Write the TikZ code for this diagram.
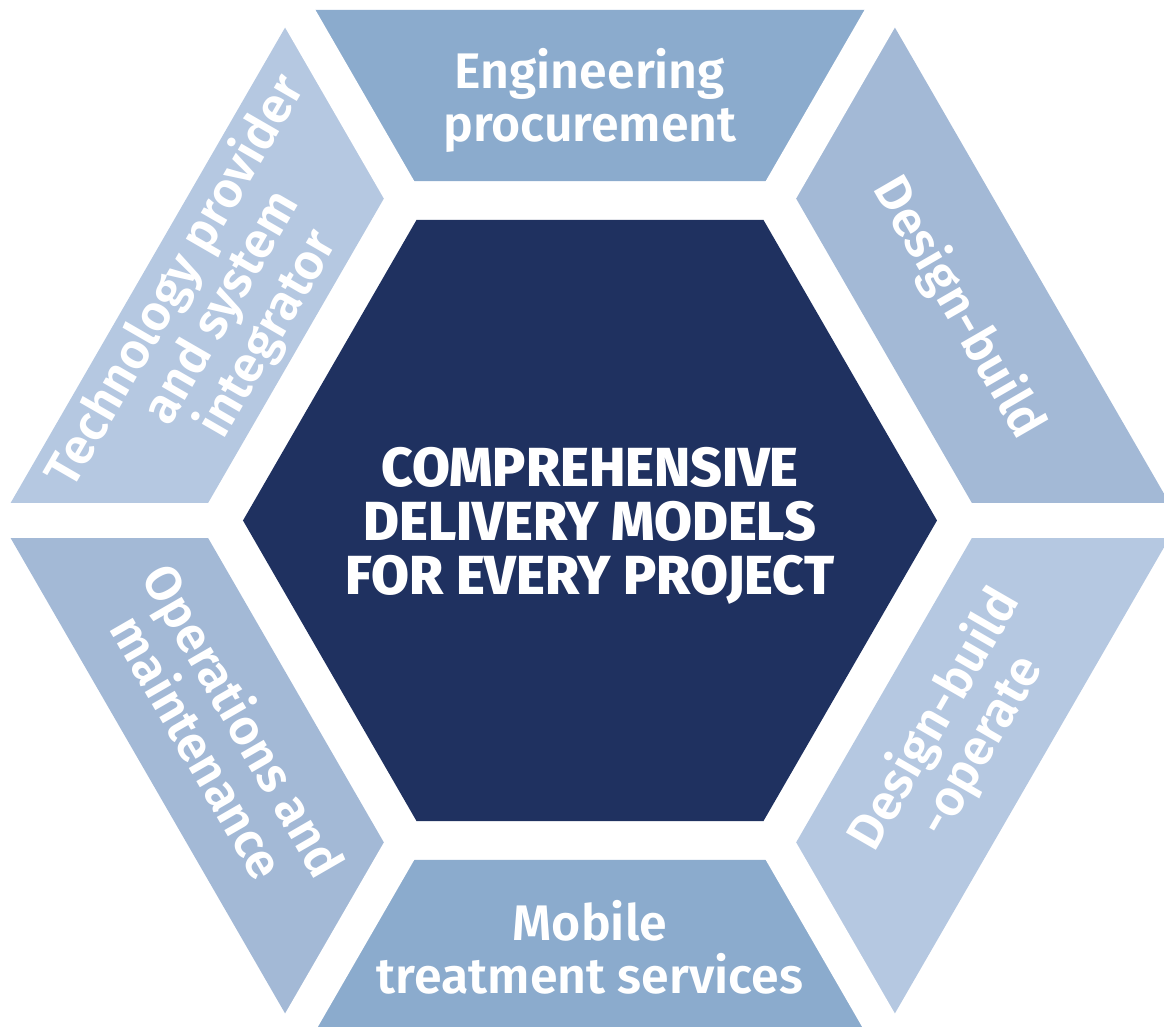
\documentclass[tikz,border=0pt]{standalone}
\usepackage{fontspec}
\newfontfamily\labelfont{Fira Sans SemiBold}
\newfontfamily\hubfont{Fira Sans ExtraBold}
\usetikzlibrary{positioning}

\definecolor{hubnavy}{HTML}{1F3160}
\definecolor{segmid}{HTML}{8BABCD}
\definecolor{segsoft}{HTML}{A3B9D6}
\definecolor{seglight}{HTML}{B5C8E1}

\begin{document}
\begin{tikzpicture}[x=0.5pt,y=0.5pt,
                    lbl/.style={text=white,align=center,inner sep=0pt,
                                font=\labelfont\fontsize{25}{26.5}\selectfont},
                    hub/.style={text=white,align=center,inner sep=0pt,
                                font=\hubfont\fontsize{27.5}{27}\selectfont},
                    gap/.style={white,line width=17.5pt}]
  \useasboundingbox (-590,-506.5) rectangle (574,520.5);
  \clip (-590,-506.5) rectangle (574,520.5);

  % outer ring, one band per delivery model
  \foreach \a/\col in {0/segsoft,60/segmid,120/seglight,180/segsoft,240/segmid,300/seglight}
    \fill[\col] (\a:589.5) -- (\a+60:589.5) -- (\a+60:392) -- (\a:392) -- cycle;
  \foreach \a in {0,60,...,300}
    \draw[gap] (0,0) -- (\a:700);

  % centre hexagon
  \fill[hubnavy] (0:347) -- (60:347) -- (120:347) -- (180:347)
                 -- (240:347) -- (300:347) -- cycle;

  \node[hub] (hub) at (0,-5) {COMPREHENSIVE\\DELIVERY MODELS\\FOR EVERY PROJECT};

  \node[lbl]           (engproc)  at (90:420)  {Engineering\\procurement};
  \node[lbl,rotate=-60] (dbuild)  at (30:425)  {Design-build};
  \node[lbl,rotate=60]  (dbo)     at (-30:425) {Design-build\\-operate};
  \node[lbl]           (mobile)   at (-90:427) {Mobile\\treatment services};
  \node[lbl,rotate=-60] (opsmaint) at (210:425) {Operations and\\maintenance};
  \node[lbl,rotate=60]  (techprov) at (150:425) {Technology provider\\and system\\integrator};
\end{tikzpicture}
\end{document}
